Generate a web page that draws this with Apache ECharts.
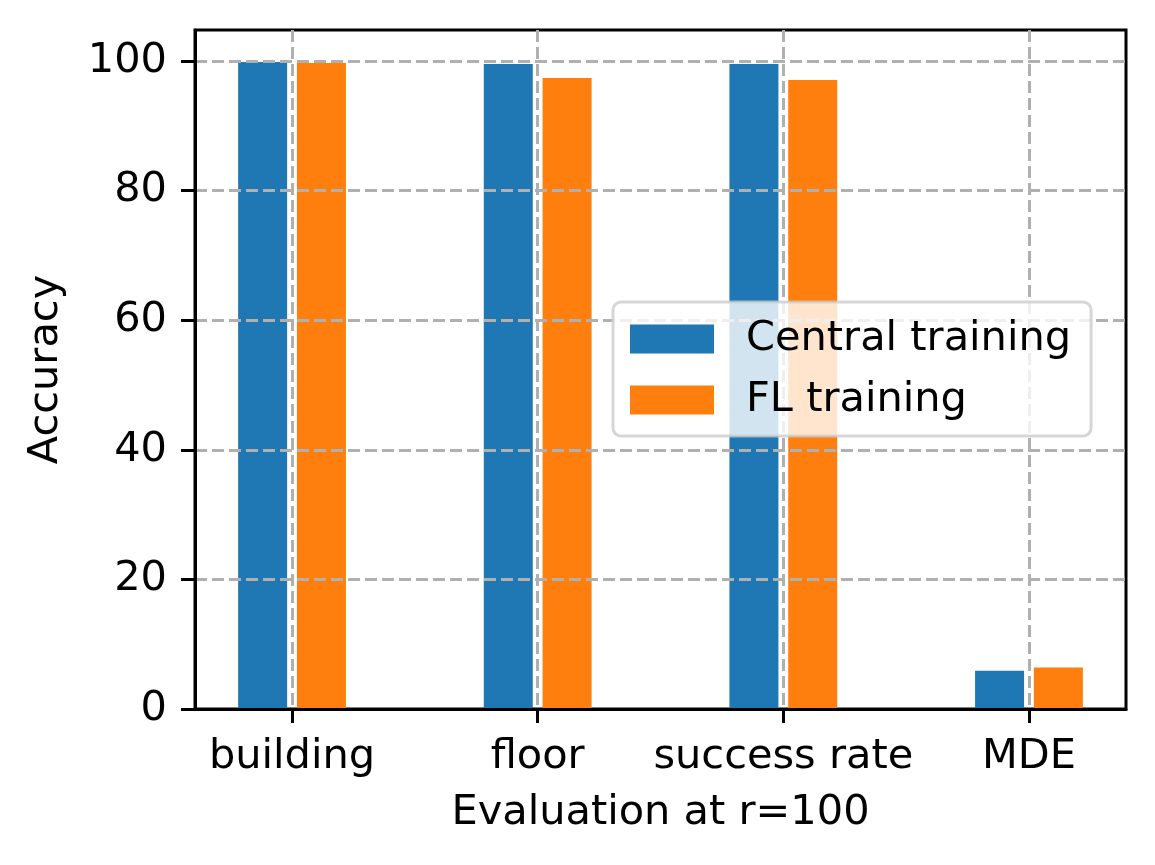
<!DOCTYPE html>
<html>
<head>
<meta charset="utf-8">
<title>Evaluation at r=100</title>
<script src="https://cdn.jsdelivr.net/npm/echarts@6/dist/echarts.min.js"></script>
<style>
  html, body { margin: 0; padding: 0; background: #fff; }
  #main { width: 1155px; height: 865px; }
</style>
</head>
<body>
<div id="main"></div>
<script>
// data
var categories = ['building', 'floor', 'success rate', 'MDE']
var central = [99.85, 99.55, 99.55, 5.9]
var fl = [99.7, 97.4, 97.1, 6.4]
var yTicks = [0, 20, 40, 60, 80, 100]

var font = 'DejaVu Sans'
var fs = 41.5
var chart = echarts.init(document.getElementById('main'))

// bars sit on a value axis so the x range can match the original margins
function toPoints(arr) {
  return arr.map(function (v, i) {
    return [i, v]
  })
}
var xTicks = categories.map(function (c, i) {
  return i
})

var option = {
  animation: false,
  backgroundColor: '#fff',
  textStyle: { fontFamily: font },
  grid: {
    left: 195,
    right: 29,
    top: 30,
    bottom: 156,
    show: true,
    borderColor: '#000',
    borderWidth: 3,
    backgroundColor: 'transparent',
  },
  legend: {
    orient: 'vertical',
    left: 613,
    top: 302,
    z: 10,
    padding: [16, 20, 15, 17],
    itemWidth: 84,
    itemHeight: 29,
    itemGap: 19,
    icon: 'rect',
    backgroundColor: 'rgba(255,255,255,0.8)',
    borderColor: 'rgba(204,204,204,0.8)',
    borderWidth: 3,
    borderRadius: 8,
    textStyle: {
      fontFamily: font,
      fontSize: fs,
      color: '#000',
      padding: [0, 0, 0, 27],
    },
    data: ['Central training', 'FL training'],
  },
  xAxis: {
    type: 'value',
    min: -0.395,
    max: 3.395,
    z: 4,
    name: 'Evaluation at r=100',
    nameLocation: 'middle',
    nameGap: 83,
    nameTextStyle: { fontFamily: font, fontSize: fs, color: '#000' },
    axisLine: { show: true, onZero: false, lineStyle: { color: '#000', width: 3 } },
    axisTick: {
      show: true,
      length: 14,
      customValues: xTicks,
      lineStyle: { color: '#000', width: 3 },
    },
    axisLabel: {
      customValues: xTicks,
      margin: 27,
      fontFamily: font,
      fontSize: fs,
      color: '#000',
      formatter: function (v) {
        return categories[Math.round(v)]
      },
    },
    splitLine: {
      show: true,
      lineStyle: { color: '#b0b0b0', width: 3, type: [12, 5] },
    },
  },
  yAxis: {
    type: 'value',
    min: 0,
    max: 104.8,
    z: 3,
    name: 'Accuracy',
    nameLocation: 'middle',
    nameGap: 128,
    nameTextStyle: { fontFamily: font, fontSize: fs, color: '#000' },
    axisLine: { show: true, onZero: false, lineStyle: { color: '#000', width: 3 } },
    axisTick: {
      show: true,
      length: 14,
      customValues: yTicks,
      lineStyle: { color: '#000', width: 3 },
    },
    axisLabel: {
      customValues: yTicks,
      margin: 28,
      fontFamily: font,
      fontSize: fs,
      color: '#000',
    },
    splitLine: {
      show: true,
      lineStyle: { color: '#b0b0b0', width: 3, type: [12, 5] },
    },
  },
  series: [
    {
      name: 'Central training',
      type: 'bar',
      barWidth: 49,
      barGap: '20%',
      itemStyle: { color: '#1f77b4' },
      data: toPoints(central),
    },
    {
      name: 'FL training',
      type: 'bar',
      barWidth: 49,
      barGap: '20%',
      itemStyle: { color: '#ff7f0e' },
      data: toPoints(fl),
    },
  ],
}

chart.setOption(option)
</script>
</body>
</html>
